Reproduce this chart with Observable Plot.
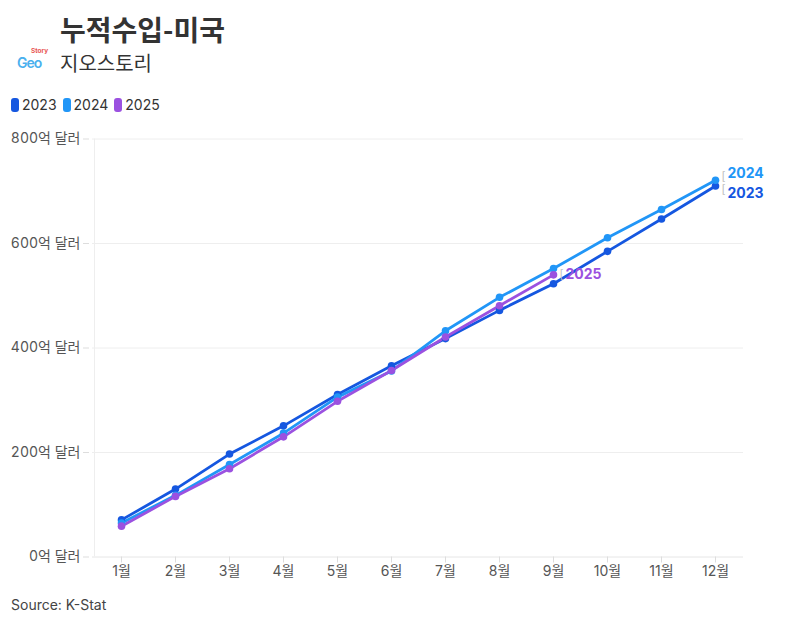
<!DOCTYPE html>
<html><head><meta charset="utf-8">
<script src="https://cdn.jsdelivr.net/npm/d3@7"></script>
<script src="https://cdn.jsdelivr.net/npm/@observablehq/plot@0.6"></script>
<style>
body{margin:0;background:#fff;font-family:Inter,"Noto Sans CJK KR",sans-serif;}
#wrap{position:relative;width:795px;height:624px;overflow:hidden;}
#title{position:absolute;left:60px;top:9px;font-size:28px;font-weight:700;color:#333;font-family:"Noto Sans CJK KR",sans-serif;}
#sub{position:absolute;left:60px;top:48px;font-size:20px;color:#333;font-family:"Noto Sans CJK KR",sans-serif;}
#logo{position:absolute;left:16px;top:46px;width:34px;height:26px;}
#legend{position:absolute;left:11px;top:96px;display:flex;gap:6px;font-size:14px;color:#333;}
#legend span{display:flex;align-items:center;}
#legend i{display:inline-block;width:8px;height:14px;border-radius:3px;margin-right:3px;}
#chart{position:absolute;left:0;top:120px;}
#source{position:absolute;left:11px;top:596px;font-size:14px;color:#444;}
</style></head>
<body><div id="wrap">
<div id="title">누적수입-미국</div>
<svg id="logo" viewBox="0 0 34 26"><text x="15" y="7" font-size="6.5" font-weight="700" fill="#e8524f" font-family="Inter">Story</text><text x="1" y="22" font-size="14" font-weight="600" fill="#4ab0ee" font-family="Inter" letter-spacing="-1">Geo</text></svg>
<div id="sub">지오스토리</div>
<div id="legend"></div>
<div id="chart"></div>
<div id="source">Source: K-Stat</div>
</div>
<script>
const months = ["1월","2월","3월","4월","5월","6월","7월","8월","9월","10월","11월","12월"];
const years = ["2023","2024","2025"];
const colors = ["#1557e0","#2196f7","#9b51e0"];
const v2023 = [71,130,197,251,311,366,418,472,523,585,647,710];
const v2024 = [65,118,177,237,306,356,433,497,552,611,665,721];
const v2025 = [59,116,169,230,298,357,421,481,540];
const yTicks = [0,200,400,600,800];

const series = [v2023, v2024, v2025];
const data = [];
series.forEach((vals, i) => vals.forEach((v, j) => data.push({year: years[i], month: months[j], value: v})));
const last = series.map((vals, i) => ({year: years[i], month: months[vals.length - 1], value: vals[vals.length - 1]}));

const leg = document.getElementById("legend");
years.forEach((y, i) => {
  const s = document.createElement("span");
  s.innerHTML = `<i style="background:${colors[i]}"></i>${y}`;
  leg.appendChild(s);
});

const labelOffsets = {"2023": 7, "2024": -7, "2025": 0};
const labelMarks = last.map(d => Plot.text([d], {x: "month", y: "value", text: "year", fill: colors[years.indexOf(d.year)],
  dx: 12, dy: labelOffsets[d.year], textAnchor: "start", fontWeight: 700, fontSize: 14}));
const bracketMarks = last.map(d => Plot.text([d], {x: "month", y: "value", text: () => "[", fill: "#bbb",
  dx: 6, dy: labelOffsets[d.year] * 0.5, textAnchor: "start", fontSize: 11}));

const chart = Plot.plot({
  width: 795,
  height: 480,
  marginLeft: 92,
  marginRight: 52,
  marginTop: 18.5,
  marginBottom: 43.5,
  style: {fontFamily: 'Inter,"Noto Sans CJK KR",sans-serif', fontSize: "14px", color: "#555"},
  x: {type: "point", domain: months, padding: 0.5, label: null},
  y: {domain: [0, 800], label: null},
  color: {domain: years, range: colors},
  marks: [
    Plot.gridY(yTicks, {stroke: "#eee", strokeOpacity: 1}),
    Plot.ruleY([0], {stroke: "#eee"}),
    Plot.ruleX([months[0]], {stroke: "#eee", dx: -27, y1: 0, y2: 800}),
    Plot.axisX({tickSize: 6, stroke: "#ddd", color: "#555", fontSize: 14, tickPadding: 3}),
    Plot.axisY({ticks: yTicks, tickFormat: d => d + "억 달러", tickSize: 6, stroke: "#ddd", color: "#555", fontSize: 14, dx: -3}),
    Plot.line(data, {x: "month", y: "value", stroke: "year", strokeWidth: 2.8, z: "year"}),
    Plot.dot(data, {x: "month", y: "value", fill: "year", r: 3.8}),
    ...bracketMarks,
    ...labelMarks
  ]
});
document.getElementById("chart").appendChild(chart);
</script>
</body></html>
